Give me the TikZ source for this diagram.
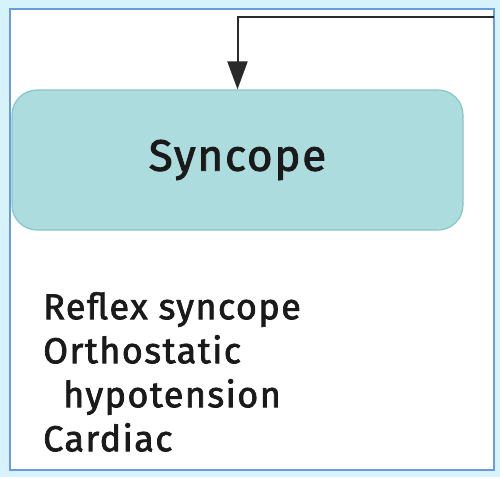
\documentclass[tikz,border=0pt]{standalone}
\usepackage{fontspec}
\setmainfont[LetterSpace=4,FakeBold=2]{Fira Sans}
\usetikzlibrary{arrows.meta}
\definecolor{bgblue}{HTML}{D6F3FB}
\definecolor{frameblue}{HTML}{6A9AE0}
\definecolor{boxfill}{HTML}{ACDCDD}
\definecolor{boxedge}{HTML}{86C5C8}
\definecolor{linegray}{HTML}{2A2A2A}
\definecolor{inkblack}{HTML}{1A1A1A}
\begin{document}
\begin{tikzpicture}[x=1pt,y=-1pt,
sysbox/.style={draw=boxedge,fill=boxfill,rounded corners=25pt,minimum width=451pt,minimum height=140pt,line width=1.2pt,text=inkblack,font=\fontsize{44}{44}\selectfont},
listtext/.style={align=left,anchor=north west,inner sep=0pt,text=inkblack,font=\fontsize{36}{44}\selectfont},
link/.style={draw=linegray,line width=2pt,-{Triangle[length=28pt,width=20pt]}}]

\fill[bgblue] (0,0) rectangle (500,477);
\draw[frameblue,fill=white,line width=1.5pt] (10,9) rectangle (494,470);

\draw (237.5,160) node[sysbox] (syn) {Syncope};
\draw (43,292) node[listtext] (causes) {Reflex syncope\\Orthostatic\\\hspace*{20pt}hypotension\\Cardiac};
\coordinate (src) at (494,17);

\draw[link] (src) -| (syn.north);
\end{tikzpicture}
\end{document}
